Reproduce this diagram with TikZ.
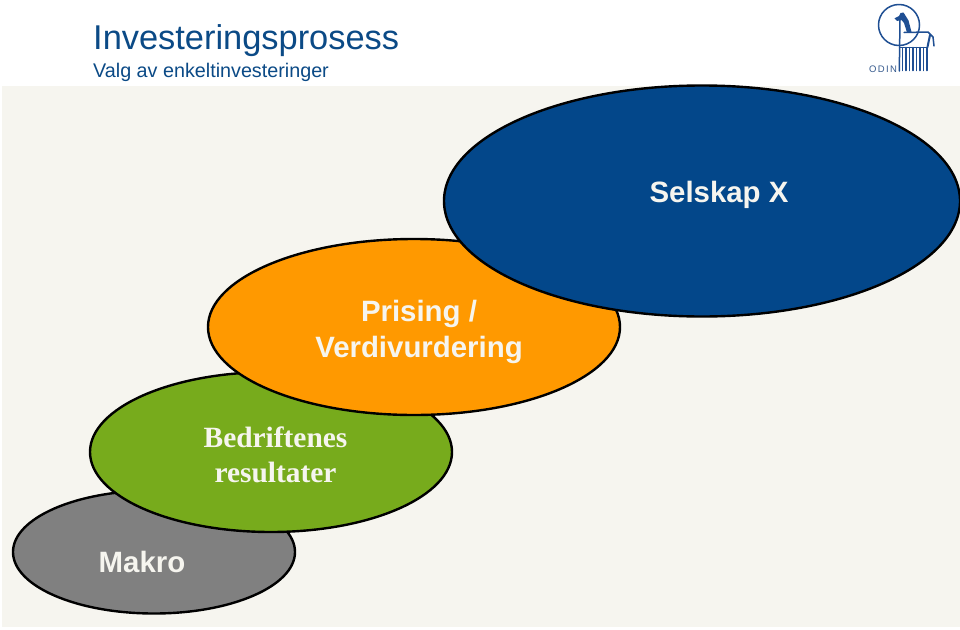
\documentclass[tikz,border=0pt]{standalone}
\usepackage{fontspec}
\setmainfont{Liberation Sans}
\newfontfamily\serifface{Liberation Serif}
\definecolor{panel}{HTML}{F6F5EF}
\definecolor{navy}{HTML}{03478A}
\definecolor{titleblue}{HTML}{0B4A86}
\definecolor{amber}{HTML}{FF9900}
\definecolor{leaf}{HTML}{77AB1C}
\definecolor{slate}{HTML}{808080}
\definecolor{logoblue}{HTML}{1F4F93}
\usetikzlibrary{shapes.geometric}
\tikzset{
  x=1pt,y=-1pt,
  stage/.style={shape=ellipse,draw=black,line width=2.4pt,inner sep=0pt,minimum width=#1},
  stagelabel/.style={text=panel,align=center,font=\bfseries\fontsize{29.4}{35.5}\selectfont},
  logoline/.style={draw=logoblue,line width=1.5pt,line cap=round,line join=round},
}
\begin{document}
\begin{tikzpicture}
\useasboundingbox (0,0) rectangle (960,629);
\fill[white] (0,0) rectangle (960,629);
\fill[panel] (2,86) rectangle (960,627);
% stages, back to front
\begin{scope}
\clip (0,0) rectangle (960,629);
\node[stage=282pt,minimum height=123pt,fill=slate] (makro) at (154,552) {};
\node[stage=362pt,minimum height=160pt,fill=leaf] (bedrift) at (271,452) {};
\node[stage=412pt,minimum height=176pt,fill=amber] (prising) at (414,327) {};
\node[stage=516pt,minimum height=231pt,fill=navy] (selskap) at (702,201) {};
\end{scope}
\node[stagelabel] (makrotext) at (142,562) {Makro};
\node[stagelabel,font=\serifface\bfseries\fontsize{29.4}{35.5}\selectfont] (bedrifttext) at (275.5,455) {Bedriftenes\\resultater};
\node[stagelabel] (prisingtext) at (419,332) {Prising /\\Verdivurdering};
\node[stagelabel] (selskaptext) at (719,195) {Selskap X};
% heading
\node[anchor=base west,inner sep=0pt,text=titleblue,font=\fontsize{34.4}{40}\selectfont] (title) at (93,49) {Investeringsprosess};
\node[anchor=base west,inner sep=0pt,text=titleblue,font=\fontsize{19.75}{24}\selectfont] (subtitle) at (93,77) {Valg av enkeltinvesteringer};
% emblem: ring, horse and fringe
\draw[logoline] (899,25) circle (20.5);
\fill[logoblue] (900.5,13) -- (903.5,12.5) -- (908.5,20.5) -- (911.5,32) -- (907,32.5) -- (904,23) -- (901.5,20) -- (897,21) -- (894.5,18.3) -- (899,16) -- cycle;
\draw[logoline] (900,19) -- (899.3,71);
\draw[logoline] (904,32.5) -- (928,32) -- (933,37) -- (934,46);
\draw[logoline,line width=2pt] (930,35) -- (927.5,47);
\draw[logoline] (899.5,47.5) -- (927.5,47.5);
\foreach \fx in {902.5,906,...,927}
  \draw[logoline,line width=1.5pt] (\fx,47.5) -- (\fx,70.5);
\node[anchor=base west,inner sep=0pt,text=logoblue!75!gray,font=\addfontfeature{LetterSpace=14}\fontsize{9.5}{11}\selectfont] (odin) at (869,72) {ODIN};
\end{tikzpicture}
\end{document}
